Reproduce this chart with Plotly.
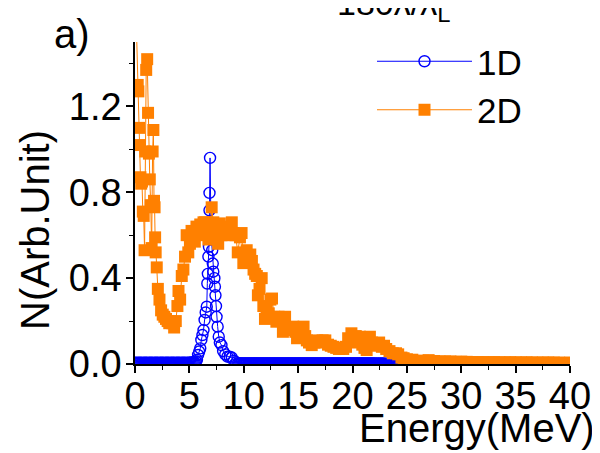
import plotly.graph_objects as go

# ---------------- data ----------------
E_1D = [0.0, 0.1, 0.2, 0.3, 0.4, 0.5, 0.6, 0.7, 0.8, 0.9, 1.0, 1.1, 1.2, 1.3, 1.4, 1.5, 1.6, 1.7, 1.8, 1.9,
        2.0, 2.1, 2.2, 2.3, 2.4, 2.5, 2.6, 2.7, 2.8, 2.9, 3.0, 3.1, 3.2, 3.3, 3.4, 3.5, 3.6, 3.7, 3.8, 3.9,
        4.0, 4.1, 4.2, 4.3, 4.4, 4.5, 4.6, 4.7, 4.8, 4.9, 5.0, 5.1, 5.2, 5.3, 5.4,
        5.5, 5.6, 5.7, 5.8, 5.9, 6.0, 6.1, 6.2, 6.3, 6.4, 6.5, 6.6, 6.65, 6.7, 6.75,
        6.8, 6.85, 6.85, 6.9, 7.0, 7.1, 7.15, 7.2, 7.3, 7.35, 7.4, 7.45, 7.5, 7.6,
        7.7, 7.8, 7.95, 8.1, 8.3, 8.5, 8.7, 8.9, 9.1, 9.3, 9.5,
        9.6, 9.7, 9.8, 9.9, 10.0, 10.1, 10.2, 10.3, 10.4, 10.5, 10.6, 10.7, 10.8, 10.9,
        11.0, 11.1, 11.2, 11.3, 11.4, 11.5, 11.6, 11.7, 11.8, 11.9,
        12.0, 12.1, 12.2, 12.3, 12.4, 12.5, 12.6, 12.7, 12.8, 12.9,
        13.0, 13.1, 13.2, 13.3, 13.4, 13.5, 13.6, 13.7, 13.8, 13.9,
        14.0, 14.1, 14.2, 14.3, 14.4, 14.5, 14.6, 14.7, 14.8, 14.9,
        15.0, 15.1, 15.2, 15.3, 15.4, 15.5, 15.6, 15.7, 15.8, 15.9,
        16.0, 16.1, 16.2, 16.3, 16.4, 16.5, 16.6, 16.7, 16.8, 16.9,
        17.0, 17.1, 17.2, 17.3, 17.4, 17.5, 17.6, 17.7, 17.8, 17.9,
        18.0, 18.1, 18.2, 18.3, 18.4, 18.5, 18.6, 18.7, 18.8, 18.9,
        19.0, 19.1, 19.2, 19.3, 19.4, 19.5, 19.6, 19.7, 19.8, 19.9,
        20.0, 20.1, 20.2, 20.3, 20.4, 20.5, 20.6, 20.7, 20.8, 20.9,
        21.0, 21.1, 21.2, 21.3, 21.4, 21.5, 21.6, 21.7, 21.8, 21.9,
        22.0, 22.1, 22.2, 22.3, 22.4, 22.5, 22.6, 22.7, 22.8, 22.9,
        23.0, 23.1, 23.2, 23.3, 23.4, 23.5, 23.6, 23.7, 23.8, 23.9, 24.0]
N_1D = [0.006, 0.005, 0.006, 0.005, 0.006, 0.006, 0.005, 0.006, 0.005, 0.006,
        0.006, 0.005, 0.006, 0.005, 0.006, 0.006, 0.005, 0.006, 0.005, 0.006,
        0.006, 0.005, 0.006, 0.005, 0.006, 0.006, 0.005, 0.006, 0.005, 0.006,
        0.006, 0.005, 0.006, 0.005, 0.006, 0.006, 0.005, 0.006, 0.005, 0.006,
        0.006, 0.005, 0.006, 0.005, 0.006, 0.006, 0.005, 0.006, 0.005, 0.006,
        0.006, 0.006, 0.007, 0.007, 0.007,
        0.008, 0.012, 0.02, 0.042, 0.058, 0.073, 0.112, 0.135, 0.158, 0.205, 0.24, 0.267, 0.375, 0.42, 0.5,
        0.546, 0.716, 0.797, 0.96, 0.6, 0.53, 0.468, 0.43, 0.4, 0.36, 0.32, 0.27, 0.22, 0.174,
        0.127, 0.1, 0.088, 0.06, 0.045, 0.034, 0.034, 0.03, 0.015, 0.008, 0.004,
        0.003, 0.002, 0.003, 0.002, 0.003, 0.002, 0.003, 0.002, 0.003, 0.002, 0.003, 0.002, 0.003, 0.002,
        0.003, 0.002, 0.003, 0.002, 0.003, 0.002, 0.003, 0.002, 0.003, 0.002,
        0.003, 0.002, 0.003, 0.002, 0.003, 0.002, 0.003, 0.002, 0.003, 0.002,
        0.003, 0.002, 0.003, 0.002, 0.003, 0.002, 0.003, 0.002, 0.003, 0.002,
        0.003, 0.002, 0.003, 0.002, 0.003, 0.002, 0.003, 0.002, 0.003, 0.002,
        0.003, 0.002, 0.003, 0.002, 0.003, 0.002, 0.003, 0.002, 0.003, 0.002,
        0.003, 0.002, 0.003, 0.002, 0.003, 0.002, 0.003, 0.002, 0.003, 0.002,
        0.003, 0.002, 0.003, 0.002, 0.003, 0.002, 0.003, 0.002, 0.003, 0.002,
        0.003, 0.002, 0.003, 0.002, 0.003, 0.002, 0.003, 0.002, 0.003, 0.002,
        0.003, 0.002, 0.003, 0.002, 0.003, 0.002, 0.003, 0.002, 0.003, 0.002,
        0.003, 0.002, 0.003, 0.002, 0.003, 0.002, 0.003, 0.002, 0.003, 0.002,
        0.003, 0.002, 0.003, 0.002, 0.003, 0.002, 0.003, 0.002, 0.003, 0.002,
        0.002, 0.001, 0.002, 0.001, 0.002, 0.001, 0.002, 0.001, 0.002, 0.001,
        0.001, 0.0, 0.001, 0.0, 0.001, 0.0, 0.001, 0.0, 0.001, 0.0, 0.0]

E_2D = [0.15, 0.25, 0.31, 0.37, 0.43, 0.5, 0.57, 0.64, 0.72, 0.8, 0.88, 0.95, 1.03, 1.12, 1.2,
        1.28, 1.36, 1.45, 1.53, 1.62, 1.69, 1.75, 1.8, 1.85, 1.9, 2.0, 2.1, 2.25, 2.4, 2.55,
        2.7, 2.85, 3.0, 3.15, 3.3, 3.45, 3.6, 3.75, 3.9, 4.0, 4.15, 4.3, 4.45,
        4.6, 4.75, 4.9, 5.05, 5.2, 5.35, 5.5, 5.65, 5.8, 6.0, 6.15, 6.3, 6.45, 6.6, 6.75,
        6.9, 7.05, 7.2, 7.35, 7.5, 7.65, 7.8, 7.95, 8.1, 8.3, 8.5, 8.7, 8.9, 9.05, 9.25,
        9.45, 9.65, 9.8, 9.96, 10.1, 10.27, 10.45, 10.6, 10.75, 10.9, 11.05, 11.2, 11.3,
        11.45, 11.65, 11.8, 11.95, 12.1, 12.3, 12.45, 12.6, 12.8, 13.0, 13.2, 13.4, 13.6,
        13.8, 14.0, 14.2, 14.4, 14.55, 14.75, 14.9, 15.1, 15.3, 15.5, 15.65, 15.8, 16.0,
        16.25, 16.5, 16.75, 17.0, 17.25, 17.5, 17.75, 18.0, 18.25, 18.5, 18.75, 19.0,
        19.15, 19.4, 19.6, 19.9, 20.1, 20.3, 20.5, 20.7, 20.9, 21.1, 21.3, 21.45, 21.6,
        21.8, 22.0, 22.2, 22.45, 22.7, 22.9, 23.1, 23.4, 23.7, 24.0, 24.2, 24.5, 24.7,
        25.0, 25.5, 26.0, 26.5, 27.0, 27.5, 28.0, 28.5, 29.0, 29.5, 30.0, 30.5, 31.0,
        31.5, 32.0, 32.5, 33.0, 33.5, 34.0, 34.5, 35.0, 35.5, 36.0, 36.5, 37.0, 37.5,
        38.0, 38.5, 39.0, 39.5, 40.0]
N_2D = [1.53, 1.30, 1.27, 1.10, 1.02, 0.87, 0.84, 0.85, 0.71, 0.69, 0.53, 0.99, 1.37, 1.42, 1.17,
        0.98, 0.86, 0.74, 0.54, 0.99, 1.09, 0.76, 0.73, 0.59, 0.52, 0.45, 0.35, 0.30, 0.25, 0.23,
        0.22, 0.21, 0.20, 0.19, 0.20, 0.19, 0.17, 0.20, 0.27, 0.34, 0.30, 0.41, 0.44,
        0.50, 0.60, 0.52, 0.56, 0.62, 0.60, 0.57, 0.64, 0.60, 0.65, 0.63, 0.66, 0.66, 0.62, 0.58,
        0.60, 0.73, 0.66, 0.62, 0.58, 0.56, 0.655, 0.60, 0.64, 0.61, 0.63, 0.60, 0.66, 0.61, 0.60,
        0.52, 0.59, 0.61, 0.47, 0.50, 0.53, 0.50, 0.51, 0.48, 0.44, 0.42, 0.41, 0.32,
        0.35, 0.40, 0.27, 0.21, 0.25, 0.236, 0.30, 0.305, 0.22, 0.197, 0.22, 0.20, 0.15,
        0.22, 0.17, 0.16, 0.158, 0.174, 0.15, 0.12, 0.13, 0.127, 0.174, 0.13, 0.11, 0.10,
        0.088, 0.10, 0.11, 0.10, 0.11, 0.11, 0.09, 0.085, 0.08, 0.075, 0.07, 0.073,
        0.07, 0.08, 0.12, 0.143, 0.12, 0.13, 0.10, 0.127, 0.09, 0.075, 0.065, 0.11, 0.127,
        0.10, 0.085, 0.09, 0.10, 0.08, 0.085, 0.07, 0.06, 0.05, 0.05, 0.045, 0.03, 0.027,
        0.022, 0.02, 0.015, 0.015, 0.018, 0.014, 0.012, 0.012, 0.012, 0.010, 0.011, 0.010, 0.009,
        0.009, 0.009, 0.008, 0.009, 0.008, 0.008, 0.008, 0.008, 0.007, 0.008, 0.007, 0.007, 0.007,
        0.007, 0.007, 0.006, 0.006, 0.006]

X_TICKS = [0, 5, 10, 15, 20, 25, 30, 35, 40]
Y_TICKS = [0.0, 0.4, 0.8, 1.2]

# ---------------- layout helpers ----------------
# the page body has an 8px default margin, so the figure starts at (8, 8) in the window
OFF = 8
W, H = 600 - OFF, 453 - OFF
# plot area in window pixels: x 135..570, y 42..364
PX0, PX1, PY0, PY1 = 135, 570, 42, 364
L, T = PX0 - OFF, PY0 - OFF
R, B = W - (PX1 - OFF), H - (PY1 - OFF)
PW, PH = PX1 - PX0, PY1 - PY0


def px_x(x):
    return (x - PX0) / PW


def px_y(y):
    return (PY1 - y) / PH


FONT = "Arial, Liberation Sans, sans-serif"

fig = go.Figure()
fig.add_trace(go.Scatter(
    x=E_1D, y=N_1D, name="1D", mode="lines+markers",
    line=dict(color="#0000FF", width=1),
    marker=dict(symbol="circle-open", size=11, color="#0000FF", line=dict(width=1.4, color="#0000FF")),
))
fig.add_trace(go.Scatter(
    x=E_2D, y=N_2D, name="2D", mode="lines+markers",
    line=dict(color="#FF8000", width=1),
    marker=dict(symbol="square", size=12, color="#FF8000", line=dict(width=0)),
))

axis_common = dict(
    showgrid=False, zeroline=False, showline=True, linecolor="black", linewidth=1.5,
    ticks="outside", ticklen=7, tickwidth=1.5, tickcolor="black",
    tickfont=dict(family=FONT, size=38, color="black"),
    mirror=False, automargin=False,
)
fig.update_xaxes(range=[0, 40], tickvals=X_TICKS, ticktext=[str(v) for v in X_TICKS],
                 ticklabelstandoff=-9,
                 minor=dict(dtick=2.5, tick0=0, ticks="outside", ticklen=4, tickwidth=1.2, tickcolor="black"),
                 **axis_common)
fig.update_yaxes(range=[0, 1.5], tickvals=Y_TICKS, ticktext=[f"{v:.1f}" for v in Y_TICKS],
                 ticklabelstandoff=-3,
                 minor=dict(dtick=0.2, tick0=0, ticks="outside", ticklen=4, tickwidth=1.2, tickcolor="black"),
                 **axis_common)

fig.update_layout(
    width=W, height=H,
    margin=dict(l=L, r=R, t=T, b=B, pad=0, autoexpand=False),
    paper_bgcolor="white", plot_bgcolor="white",
    font=dict(family=FONT, color="black"),
    showlegend=True,
    legend=dict(x=px_x(372), y=px_y(32), xanchor="left", yanchor="top",
                bgcolor="rgba(0,0,0,0)", font=dict(size=35, family=FONT),
                itemwidth=95, tracegroupgap=0),
    annotations=[
        dict(text="a)", x=px_x(72), y=px_y(34), xref="paper", yref="paper",
             showarrow=False, font=dict(size=40, family=FONT), xanchor="center", yanchor="middle"),
        dict(text="Energy(MeV)", x=px_x(597), y=px_y(428), xref="paper", yref="paper",
             showarrow=False, font=dict(size=40, family=FONT), xanchor="right", yanchor="middle"),
        dict(text="N(Arb.Unit)", x=px_x(35), y=px_y(230), xref="paper", yref="paper",
             showarrow=False, textangle=-90, font=dict(size=40, family=FONT),
             xanchor="center", yanchor="middle"),
        dict(text="180λ/λ<sub>L</sub>", x=px_x(393), y=px_y(5), xref="paper", yref="paper",
             showarrow=False, font=dict(size=34, family=FONT), xanchor="center", yanchor="middle"),
    ],
)

fig.write_html("out.html")
